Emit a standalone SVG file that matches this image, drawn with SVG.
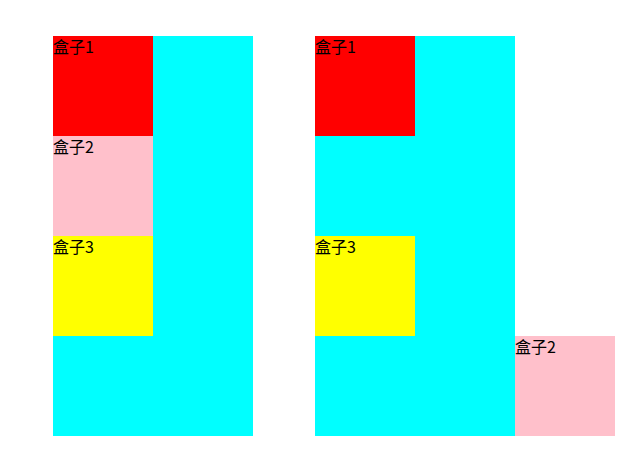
<svg xmlns="http://www.w3.org/2000/svg" width="641" height="464" viewBox="0 0 641 464">
<style>
text{font-family:"Noto Sans CJK SC","Liberation Sans",sans-serif;font-size:16px;fill:#000}
</style>
<rect width="641" height="464" fill="#fff"/>
<g id="container1">
<rect x="53" y="36" width="200" height="400" fill="#00ffff"/>
</g>
<g id="c1-box1"><rect x="53" y="36" width="100" height="100" fill="#ff0000"/><text x="53" y="53">盒子1</text></g>
<g id="c1-box2"><rect x="53" y="136" width="100" height="100" fill="#ffc0cb"/><text x="53" y="153">盒子2</text></g>
<g id="c1-box3"><rect x="53" y="236" width="100" height="100" fill="#ffff00"/><text x="53" y="253">盒子3</text></g>
<g id="container2">
<rect x="315" y="36" width="200" height="400" fill="#00ffff"/>
</g>
<g id="c2-box1"><rect x="315" y="36" width="100" height="100" fill="#ff0000"/><text x="315" y="53">盒子1</text></g>
<g id="c2-box3"><rect x="315" y="236" width="100" height="100" fill="#ffff00"/><text x="315" y="253">盒子3</text></g>
<g id="c2-box2"><rect x="515" y="336" width="100" height="100" fill="#ffc0cb"/><text x="515" y="353">盒子2</text></g>
<g id="connectors"></g>
</svg>
